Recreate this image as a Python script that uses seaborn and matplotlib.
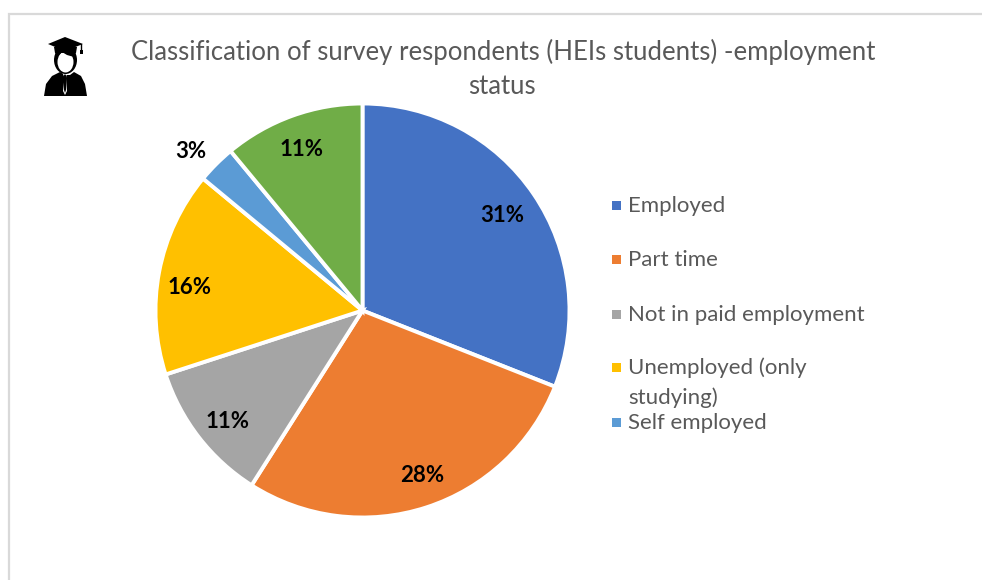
import matplotlib
matplotlib.use("Agg")
import matplotlib.pyplot as plt
from matplotlib.patches import Polygon, Ellipse, Rectangle
import seaborn as sns

legend_names = ["Employed", "Part time", "Not in paid employment",
                "Unemployed (only\nstudying)", "Self employed"]
shares = [31, 28, 11, 16, 3, 11]
value_labels = ["31%", "28%", "11%", "16%", "3%", "11%"]
slice_colors = ["#4472C4", "#ED7D31", "#A5A5A5", "#FFC000", "#5B9BD5", "#70AD47"]
title_lines = ["Classification of survey respondents (HEIs students) -employment", "status"]

W, H = 982, 580
sns.set_theme(style="white")
plt.rcParams["font.family"] = ["Lato", "DejaVu Sans"]
palette = sns.color_palette(slice_colors)
TEXT = "#595959"

fig = plt.figure(figsize=(W / 100, H / 100), dpi=100, facecolor="white")

# Full-figure layer in pixel units for frame, heading, legend and icon
bg = fig.add_axes([0, 0, 1, 1])
bg.set_xlim(0, W)
bg.set_ylim(H, 0)
bg.axis("off")

frame = "#D9D9D9"
bg.plot([9.5, 9.5, W], [H, 14, 14], color=frame, lw=1.6, solid_joinstyle="miter")

bg.text(503, 52, title_lines[0], ha="center", va="center", fontsize=18.5, color=TEXT)
bg.text(502, 87, title_lines[1], ha="center", va="center", fontsize=18.5, color=TEXT)

# Pie
cx, cy, r = 362.5, 310.5, 207
side = 2 * r / 0.999
ax = fig.add_axes([(cx - side / 2) / W, 1 - (cy + side / 2) / H, side / W, side / H])
wedges, _ = ax.pie(shares, colors=palette, startangle=90, counterclock=False, radius=1,
                   wedgeprops=dict(edgecolor="white", linewidth=2.8))
ax.set_xlim(-1.001, 1.001)
ax.set_ylim(-1.001, 1.001)

label_pos = [(502, 215), (422, 476), (228, 421), (190, 287), (191, 151), (302, 149)]
for txt, (lx, ly) in zip(value_labels, label_pos):
    bg.text(lx, ly, txt, ha="center", va="center", fontsize=16, fontweight="bold",
            color="black", zorder=5)
bg.set_zorder(2)
bg.patch.set_alpha(0)

# Legend rows; the last slice has no legend entry
rows = [205, 259, 314, 367, 422]
for name, col, y in zip(legend_names, palette[:5], rows):
    bg.add_patch(Rectangle((612, y - 4.5), 9.5, 9.5, facecolor=col, edgecolor="none"))
    first, *rest = name.split("\n")
    bg.text(628.5, y + 1, first, ha="left", va="center", fontsize=16.05, color=TEXT)
    if rest:
        bg.text(628.5, y + 30.5, rest[0], ha="left", va="center", fontsize=16.05, color=TEXT)

# Graduate icon
k = "black"
bg.add_patch(Polygon([(44, 96), (46, 84), (52, 76), (60, 72), (65, 75), (70, 75), (74, 72),
                      (81, 76), (85, 84), (87, 96)], closed=True, fc=k, ec="none"))
bg.add_patch(Polygon([(63, 74), (65, 72), (67, 74), (66, 78), (67, 91), (65, 95), (63, 91), (64.5, 78)],
                     closed=True, fc="white", ec="none"))
bg.add_patch(Polygon([(63.5, 76), (65, 74), (66.5, 76), (66, 90), (65, 93), (64, 90)], closed=True, fc=k, ec="none"))
bg.add_patch(Ellipse((65.5, 60), 23, 28, fc=k, ec="none"))
bg.add_patch(Ellipse((65.5, 62), 16, 21, fc="white", ec="none"))
bg.add_patch(Polygon([(55, 52), (76, 52), (74, 57), (67, 55), (62, 52), (57, 57)], closed=True, fc=k, ec="none"))
bg.add_patch(Polygon([(48, 44), (65, 37), (83, 44), (65, 51)], closed=True, fc=k, ec="none"))
bg.add_patch(Polygon([(54, 47), (77, 47), (76, 53), (55, 53)], closed=True, fc=k, ec="none"))
bg.plot([81, 81], [44, 52], color=k, lw=1.0)
bg.add_patch(Rectangle((80, 50), 2.6, 4, fc=k, ec="none"))

fig.savefig("out.png", dpi=100)
